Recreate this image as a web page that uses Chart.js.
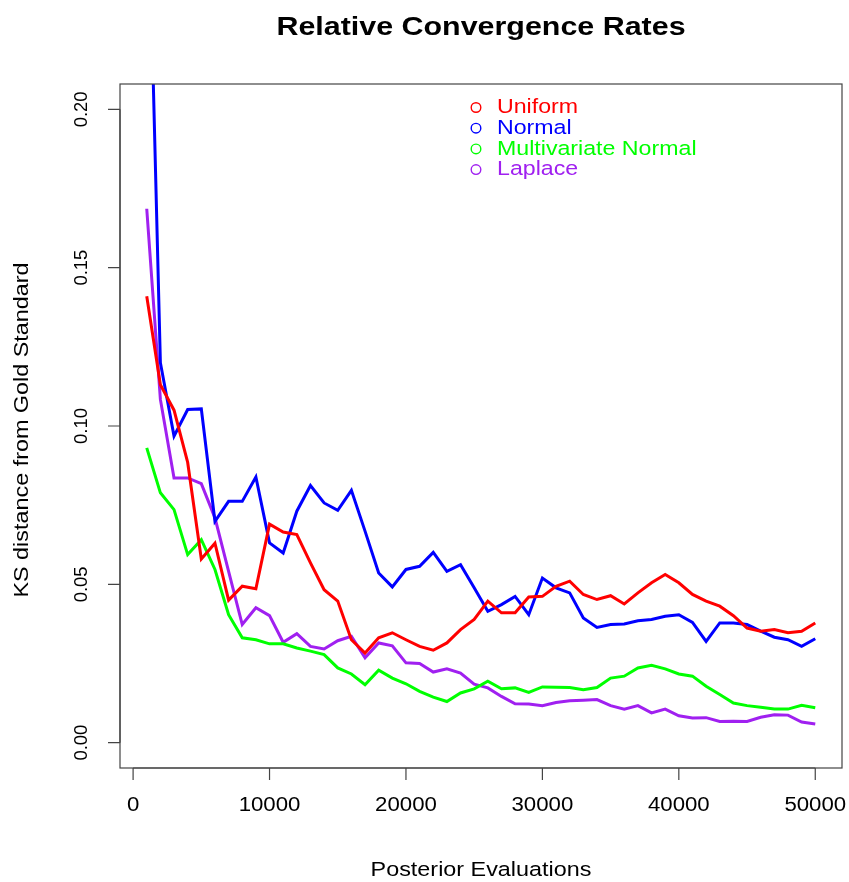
<!DOCTYPE html>
<html>
<head>
<meta charset="utf-8">
<title>Relative Convergence Rates</title>
<script src="https://cdn.jsdelivr.net/npm/chart.js@4/dist/chart.umd.min.js"></script>
<style>
  html, body { margin: 0; padding: 0; background: #fff; }
  #wrap { width: 849px; height: 882px; position: relative; }
</style>
</head>
<body>
<div id="wrap"><canvas id="chartKs"></canvas></div>
<script>
// posterior evaluations, 1000 .. 50000
const evaluations = [
  1000, 2000, 3000, 4000, 5000, 6000, 7000, 8000, 9000, 10000,
  11000, 12000, 13000, 14000, 15000, 16000, 17000, 18000, 19000, 20000,
  21000, 22000, 23000, 24000, 25000, 26000, 27000, 28000, 29000, 30000,
  31000, 32000, 33000, 34000, 35000, 36000, 37000, 38000, 39000, 40000,
  41000, 42000, 43000, 44000, 45000, 46000, 47000, 48000, 49000, 50000
];

const uniformKs = [
  0.141, 0.113, 0.105, 0.0885, 0.058, 0.063, 0.045, 0.0494, 0.0486, 0.069,
  0.0665, 0.0657, 0.0568, 0.0483, 0.0447, 0.0325, 0.0283, 0.0331, 0.0347, 0.0325,
  0.0304, 0.0292, 0.0315, 0.0357, 0.0389, 0.0447, 0.041, 0.041, 0.046, 0.0462,
  0.0494, 0.051, 0.0468, 0.0452, 0.0464, 0.0438, 0.0473, 0.0505, 0.0531, 0.0505,
  0.0468, 0.0447, 0.0431, 0.0401, 0.0362, 0.0352, 0.0357, 0.0347, 0.0352, 0.0378
];

const normalKs = [
  0.29, 0.12, 0.0968, 0.1052, 0.1054, 0.0699, 0.0762, 0.0762, 0.0839, 0.0631,
  0.0599, 0.0731, 0.0812, 0.0757, 0.0734, 0.0797, 0.0668, 0.0536, 0.0492, 0.0547,
  0.0557, 0.0601, 0.0541, 0.0562, 0.0489, 0.0415, 0.0436, 0.0462, 0.0404, 0.052,
  0.0489, 0.0473, 0.0394, 0.0364, 0.0373, 0.0375, 0.0385, 0.0389, 0.0399, 0.0404,
  0.038, 0.032, 0.0378, 0.0378, 0.0373, 0.0352, 0.0333, 0.0325, 0.0304, 0.0328
];

const mvNormalKs = [
  0.0931, 0.0789, 0.0736, 0.0594, 0.0641, 0.0547, 0.0404, 0.0331, 0.0325, 0.0312,
  0.0312, 0.0299, 0.0289, 0.0278, 0.0236, 0.0217, 0.0183, 0.0229, 0.0204, 0.0186,
  0.0162, 0.0144, 0.013, 0.0157, 0.017, 0.0194, 0.017, 0.0173, 0.0159, 0.0176,
  0.0175, 0.0174, 0.0167, 0.0174, 0.0204, 0.021, 0.0236, 0.0244, 0.0233, 0.0217,
  0.021, 0.0178, 0.0152, 0.0125, 0.0117, 0.0112, 0.0106, 0.0106, 0.0118, 0.011
];

const laplaceKs = [
  0.1686, 0.1084, 0.0836, 0.0836, 0.0818, 0.071, 0.0541, 0.0373, 0.0426, 0.0401,
  0.0317, 0.0344, 0.0304, 0.0296, 0.0322, 0.0336, 0.0268, 0.0315, 0.0306, 0.0252,
  0.025, 0.0223, 0.0233, 0.022, 0.0185, 0.0173, 0.0146, 0.0123, 0.0122, 0.0117,
  0.0127, 0.0132, 0.0134, 0.0136, 0.0117, 0.0106, 0.0117, 0.0094, 0.0106, 0.0085,
  0.0078, 0.0079, 0.0067, 0.0068, 0.0067, 0.008, 0.0088, 0.0087, 0.0065, 0.0059
];

const seriesNames = ['Uniform', 'Normal', 'Multivariate Normal', 'Laplace'];
const xTicks = [0, 10000, 20000, 30000, 40000, 50000];
const yTicks = [0, 0.05, 0.10, 0.15, 0.20];
const yTickLabels = ['0.00', '0.05', '0.10', '0.15', '0.20'];

const FONT = '"Liberation Sans", Arial, Helvetica, sans-serif';

// sx widens glyphs along the text direction (the original type is set wide)
function drawText(ctx, s, x, y, size, o) {
  o = o || {};
  ctx.save();
  ctx.translate(x, y);
  if (o.rot) ctx.rotate(o.rot);
  ctx.scale(o.sx || 1, 1);
  ctx.font = (o.bold ? 'bold ' : '') + size + 'px ' + FONT;
  ctx.fillStyle = o.color || '#000';
  ctx.textAlign = o.align || 'center';
  ctx.textBaseline = 'middle';
  ctx.fillText(s, 0, 0);
  ctx.restore();
}

// base-R style frame, ticks, labels, title and legend
const rFrame = {
  id: 'rFrame',
  afterDraw(chart) {
    const ctx = chart.ctx;
    const a = chart.chartArea;
    const sx = chart.scales.x, sy = chart.scales.y;

    ctx.save();
    ctx.strokeStyle = '#444';
    ctx.lineWidth = 1.2;
    ctx.strokeRect(a.left, a.top, a.right - a.left, a.bottom - a.top);

    ctx.beginPath();
    const x0 = sx.getPixelForValue(xTicks[0]);
    const x1 = sx.getPixelForValue(xTicks[xTicks.length - 1]);
    ctx.moveTo(x0, a.bottom); ctx.lineTo(x1, a.bottom);
    xTicks.forEach(v => {
      const px = sx.getPixelForValue(v);
      ctx.moveTo(px, a.bottom); ctx.lineTo(px, a.bottom + 12);
    });
    const y0 = sy.getPixelForValue(yTicks[0]);
    const y1 = sy.getPixelForValue(yTicks[yTicks.length - 1]);
    ctx.moveTo(a.left, y0); ctx.lineTo(a.left, y1);
    yTicks.forEach(v => {
      const py = sy.getPixelForValue(v);
      ctx.moveTo(a.left, py); ctx.lineTo(a.left - 12, py);
    });
    ctx.stroke();
    ctx.restore();

    xTicks.forEach(v => drawText(ctx, String(v), sx.getPixelForValue(v), a.bottom + 37, 20, { sx: 1.11 }));
    yTicks.forEach((v, i) => drawText(ctx, yTickLabels[i], a.left - 38, sy.getPixelForValue(v), 19, { rot: -Math.PI / 2, sx: 0.97 }));

    const cx = (a.left + a.right) / 2;
    drawText(ctx, 'Relative Convergence Rates', cx, 28, 26, { bold: true, sx: 1.17 });
    drawText(ctx, 'Posterior Evaluations', cx, 870, 20.5, { sx: 1.14 });
    drawText(ctx, 'KS distance from Gold Standard', 22, (a.top + a.bottom) / 2 + 4, 20.5, { rot: -Math.PI / 2, sx: 1.14 });

    // legend
    chart.data.datasets.forEach((ds, i) => {
      const ly = 107.5 + i * 20.7;
      ctx.save();
      ctx.strokeStyle = ds.borderColor;
      ctx.lineWidth = 1.4;
      ctx.beginPath();
      ctx.arc(476, ly, 4.8, 0, Math.PI * 2);
      ctx.stroke();
      ctx.restore();
      drawText(ctx, ds.label, 497, ly, 20.5, { align: 'left', color: ds.borderColor, sx: 1.13 });
    });
  }
};

const colors = ['#ff0000', '#0000ff', '#00ff00', '#a020f0'];
const seriesData = [uniformKs, normalKs, mvNormalKs, laplaceKs];

new Chart(document.getElementById('chartKs'), {
  type: 'line',
  data: {
    labels: evaluations,
    datasets: seriesData.map((vals, i) => ({
      label: seriesNames[i],
      data: vals.map((v, j) => ({ x: evaluations[j], y: v })),
      borderColor: colors[i],
      backgroundColor: colors[i],
      borderWidth: 3,
      pointRadius: 0,
      tension: 0,
      fill: false,
      clip: 0
    }))
  },
  options: {
    responsive: true,
    maintainAspectRatio: false,
    animation: false,
    layout: { padding: { left: 120, right: 7, top: 84, bottom: 114 } },
    plugins: { legend: { display: false }, tooltip: { enabled: false }, title: { display: false } },
    scales: {
      x: { type: 'linear', min: -960, max: 51960, display: false },
      y: { type: 'linear', min: -0.008, max: 0.208, display: false }
    }
  },
  plugins: [rFrame]
});
</script>
</body>
</html>
